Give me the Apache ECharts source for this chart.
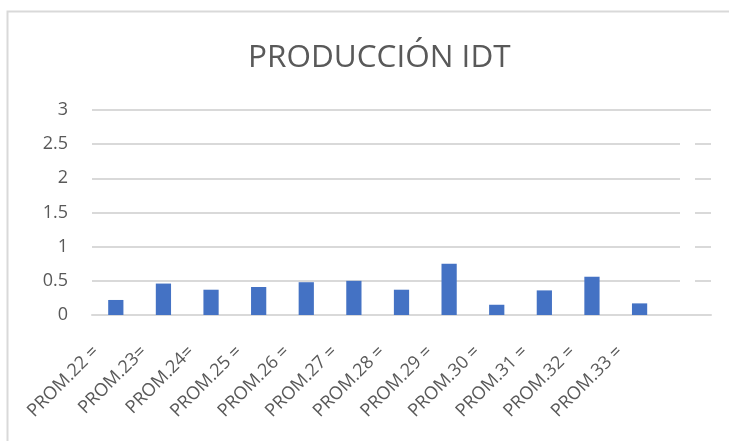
<!DOCTYPE html>
<html>
<head>
<meta charset="utf-8">
<script src="https://cdn.jsdelivr.net/npm/echarts@6/dist/echarts.min.js"></script>
<style>
  html, body { margin: 0; padding: 0; background: #fff; }
  #chart { width: 729px; height: 441px; }
</style>
</head>
<body>
<div id="chart"></div>
<script>
// categories (last one is an empty slot in the source sheet)
var categories = ['PROM.22 =', 'PROM.23=', 'PROM.24=', 'PROM.25 =', 'PROM.26 =', 'PROM.27 =',
                  'PROM.28 =', 'PROM.29 =', 'PROM.30 =', 'PROM.31 =', 'PROM.32 =', 'PROM.33 =', ''];
var values = [0.22, 0.46, 0.37, 0.41, 0.48, 0.50, 0.37, 0.75, 0.15, 0.36, 0.56, 0.17, null];
var titleText = 'PRODUCCIÓN IDT';

var myChart = echarts.init(document.getElementById('chart'));

var option = {
    animation: false,
    backgroundColor: '#fff',
    title: {
        text: titleText,
        left: 243,
        top: 37,
        textStyle: {
            fontFamily: 'Open Sans',
            fontSize: 31.5,
            fontWeight: 'normal',
            color: '#595959'
        }
    },
    graphic: [
        // outer chart border, only top and left are visible in the shot
        {
            type: 'rect',
            shape: { x: 7.5, y: 11.5, width: 800, height: 500 },
            style: { fill: 'none', stroke: '#d9d9d9', lineWidth: 2 }
        },
        // small break in the gridlines near the right end
        {
            type: 'rect',
            z: 100,
            shape: { x: 680, y: 138, width: 15, height: 148 },
            style: { fill: '#fff' }
        }
    ],
    grid: {
        left: 92,
        right: 18,
        top: 110,
        bottom: 126
    },
    xAxis: {
        type: 'category',
        data: categories,
        axisLine: { show: true, lineStyle: { color: '#d9d9d9', width: 2 } },
        axisTick: { show: false },
        axisLabel: {
            rotate: 45,
            interval: 0,
            margin: 14,
            padding: [0, 28, 0, 0],
            fontFamily: 'Open Sans',
            fontSize: 18,
            color: '#595959'
        }
    },
    yAxis: {
        type: 'value',
        min: 0,
        max: 3,
        interval: 0.5,
        axisLine: { show: false },
        axisTick: { show: false },
        splitLine: { lineStyle: { color: '#d9d9d9', width: 2 } },
        axisLabel: {
            margin: 24,
            fontFamily: 'Open Sans',
            fontSize: 18,
            color: '#595959'
        }
    },
    series: [{
        type: 'bar',
        data: values,
        barWidth: '32%',
        itemStyle: { color: '#4472c4' }
    }]
};

myChart.setOption(option);
</script>
</body>
</html>
